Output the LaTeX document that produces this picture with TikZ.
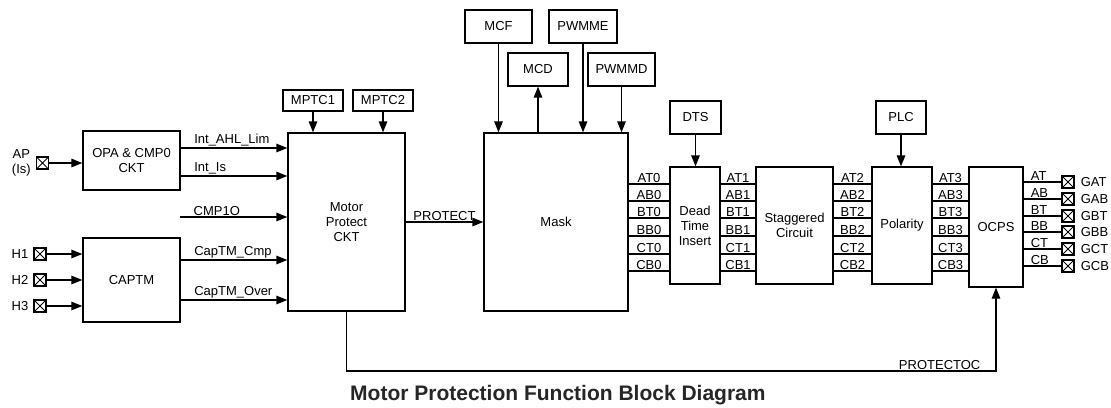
\documentclass[tikz,border=0pt]{standalone}
\usepackage{fontspec}
\setmainfont{Liberation Sans}
\usetikzlibrary{positioning,arrows.meta}

\newcommand{\lblfont}{\fontsize{13}{15}\selectfont}

\tikzset{
  blk/.style={draw, line width=1.3pt, align=center, inner sep=0pt, font=\lblfont},
  lbl/.style={font=\lblfont, inner sep=1pt},
  buslbl/.style={font=\lblfont, inner sep=0.5pt},
  padbox/.style={draw, line width=1.1pt, minimum size=12pt, inner sep=0pt,
    path picture={\draw[line width=1pt] (path picture bounding box.south west) -- (path picture bounding box.north east)
      (path picture bounding box.north west) -- (path picture bounding box.south east);}},
  sig/.style={->, line width=1.3pt},
  bus/.style={line width=1.3pt},
}

\begin{document}
\begin{tikzpicture}[x=1pt, y=-1pt, >={Triangle[length=11pt, width=8.5pt]}]
  \useasboundingbox (0,0) rectangle (1111,407);

  % Input blocks
  \node[blk, minimum width=97pt, minimum height=59pt] (opa) at (131.5,160.5) {OPA \& CMP0\\CKT};
  \node[blk, minimum width=97pt, minimum height=84pt] (captm) at (131.5,280) {CAPTM};

  % Pads on the left
  \node[padbox] (ap) at (42.5,163) {};
  \node[lbl, align=center, left=4pt of ap] (aplbl) {AP\\(Is)};
  \draw[sig] (ap) -- (ap -| opa.west);
  \foreach \h/\yy in {1/254, 2/280, 3/306} {
    \node[padbox] (h\h) at (40,\yy) {};
    \node[lbl, left=4pt of h\h] (h\h lbl) {H\h};
    \draw[sig] (h\h) -- (h\h -| captm.west);
  }

  % Protection block and its registers
  \node[blk, minimum width=117pt, minimum height=178pt] (motor) at (346.5,222) {Motor\\Protect\\CKT};
  \node[blk, minimum width=60pt, minimum height=21pt] (mptc1) at (313,100.5) {MPTC1};
  \node[blk, minimum width=60pt, minimum height=21pt] (mptc2) at (383,100.5) {MPTC2};
  \draw[sig] (mptc1) -- (mptc1 |- motor.north);
  \draw[sig] (mptc2) -- (mptc2 |- motor.north);

  % Signals into the protection block
  \draw[sig] (opa.east |- 0,148) -- (motor.west |- 0,148) node[pos=0, above right, lbl, xshift=12pt] {Int\_AHL\_Lim};
  \draw[sig] (opa.east |- 0,176) -- (motor.west |- 0,176) node[pos=0, above right, lbl, xshift=12pt] {Int\_Is};
  \coordinate (cmpin) at (180,217);
  \draw[sig] (cmpin) -- (cmpin -| motor.west) node[pos=0, above right, lbl, xshift=12pt] {CMP1O};
  \draw[sig] (captm.east |- 0,260) -- (motor.west |- 0,260) node[pos=0, above right, lbl, xshift=12pt] {CapTM\_Cmp};
  \draw[sig] (captm.east |- 0,300) -- (motor.west |- 0,300) node[pos=0, above right, lbl, xshift=12pt] {CapTM\_Over};

  % Mask block and its registers
  \node[blk, minimum width=144pt, minimum height=178pt] (mask) at (556,222) {Mask};
  \node[blk, minimum width=67pt, minimum height=33pt] (mcf) at (498.5,26.5) {MCF};
  \node[blk, minimum width=68pt, minimum height=33pt] (pwmme) at (583,26.5) {PWMME};
  \node[blk, minimum width=60pt, minimum height=33pt] (mcd) at (538,69.5) {MCD};
  \node[blk, minimum width=67pt, minimum height=33pt] (pwmmd) at (621.5,69.5) {PWMMD};
  \draw[sig] (mcf) -- (mcf |- mask.north);
  \draw[sig] (mask.north -| mcd) -- (mcd);
  \draw[sig] (pwmme) -- (pwmme |- mask.north);
  \draw[sig] (pwmmd) -- (pwmmd |- mask.north);
  \draw[sig] (motor.east) -- (mask.west) node[midway, above, lbl] {PROTECT};

  % Output chain
  \node[blk, minimum width=50pt, minimum height=117pt] (dead) at (695,225.5) {Dead\\Time\\Insert};
  \node[blk, minimum width=51pt, minimum height=33pt] (dts) at (695.5,117.5) {DTS};
  \node[blk, minimum width=77pt, minimum height=117pt] (stag) at (794.5,225.5) {Staggered\\Circuit};
  \node[blk, minimum width=60pt, minimum height=117pt] (pol) at (902,225.5) {Polarity};
  \node[blk, minimum width=50pt, minimum height=33pt] (plc) at (901,117.5) {PLC};
  \node[blk, minimum width=54pt, minimum height=120pt] (ocps) at (996,227) {OCPS};
  \draw[sig] (dts) -- (dts |- dead.north);
  \draw[sig] (plc) -- (plc |- pol.north);

  \foreach \s/\yy in {AT/184, AB/201, BT/218, BB/236, CT/254, CB/271} {
    \draw[bus] (mask.east |- 0,\yy) -- (dead.west |- 0,\yy) node[midway, above, buslbl] {\s0};
    \draw[bus] (dead.east |- 0,\yy) -- (stag.west |- 0,\yy) node[midway, above, buslbl] {\s1};
    \draw[bus] (stag.east |- 0,\yy) -- (pol.west |- 0,\yy) node[midway, above, buslbl] {\s2};
    \draw[bus] (pol.east |- 0,\yy) -- (ocps.west |- 0,\yy) node[midway, above, buslbl] {\s3};
  }

  % Gate pads on the right
  \foreach \s/\yy in {AT/182, AB/199, BT/216, BB/232, CT/249, CB/266} {
    \node[padbox] (g\s) at (1068,\yy) {};
    \node[lbl, right=5pt of g\s] (g\s lbl) {G\s};
    \draw[bus] (ocps.east |- g\s) -- (g\s) node[pos=0, above right, buslbl, xshift=6pt] {\s};
  }

  % Feedback to OCPS
  \draw[sig] (motor.south) -- (motor.south |- 0,371) -| (ocps.south)
    node[pos=0.5, above left, lbl, xshift=-14pt] {PROTECTOC};

  % Title
  \node[font=\fontsize{21}{25}\selectfont\bfseries, text=black!85, anchor=base west, inner sep=0pt] (title) at (350,400) {Motor Protection Function Block Diagram};

\end{tikzpicture}
\end{document}
